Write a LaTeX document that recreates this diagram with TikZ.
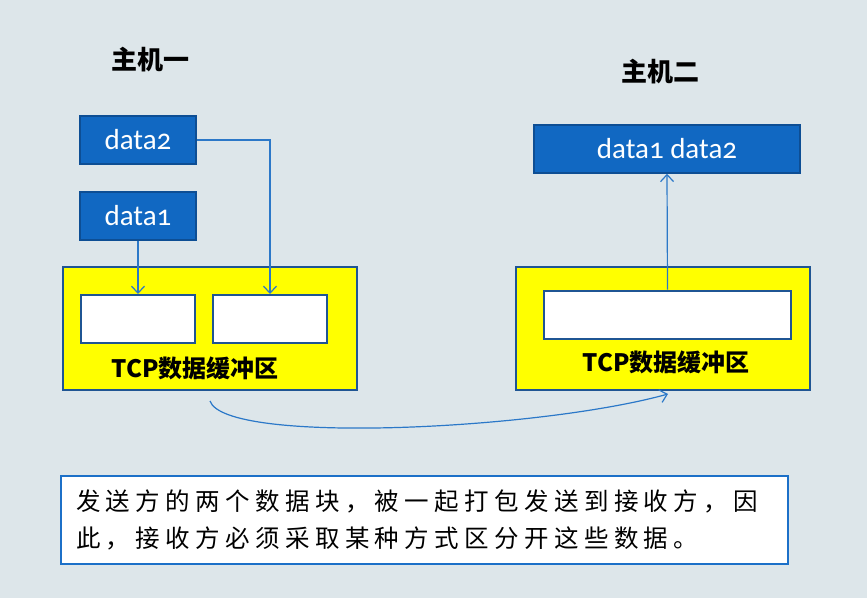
\documentclass[tikz,border=0pt]{standalone}
\usepackage{fontspec}
\setmainfont{Carlito}[Numbers=OldStyle]
\newfontfamily\cjk{Noto Sans CJK SC}
\usetikzlibrary{arrows.meta}

\definecolor{bgcol}{HTML}{DDE6EA}
\definecolor{datafill}{HTML}{1168C2}
\definecolor{dataline}{HTML}{0D4E94}
\definecolor{bufline}{HTML}{1F5593}
\definecolor{buffill}{RGB}{255,255,0}
\definecolor{linkcol}{HTML}{2B78C8}
\definecolor{notecol}{HTML}{1C70C8}

\begin{document}
\begin{tikzpicture}[
		x={(1pt,0pt)},
		y={(0pt,-1pt)},
		datablock/.style={draw=dataline,fill=datafill,line width=1.5pt,text=white,
			font=\fontsize{29}{30}\selectfont,inner sep=0pt},
		buffer/.style={draw=bufline,fill=buffill,line width=2pt,
			minimum width=294pt,minimum height=123pt},
		slot/.style={draw=bufline,fill=white,line width=2pt,minimum height=48pt},
		host/.style={font=\cjk\bfseries\fontsize{26}{28}\selectfont},
		buflabel/.style={font=\cjk\bfseries\fontsize{24}{26}\selectfont},
		link/.style={draw=linkcol,line width=1.2pt,-{Straight Barb[length=7pt,width=13pt]}},
	]
		\useasboundingbox[fill=bgcol] (0,0) rectangle (867,598);
		
		% host titles
		\node[host] (hostA) at (150,60) {主机一};
		\node[host] (hostB) at (660,72) {主机二};
		
		% sender side
		\node[datablock,minimum width=116pt,minimum height=48pt] (data2) at (138,140) {data2};
		\node[datablock,minimum width=116pt,minimum height=48pt] (data1) at (138,216) {data1};
		\node[buffer] (bufL) at (210,328.5) {};
		\foreach \n/\x in {slotA/138, slotB/270}{
			\node[slot,minimum width=114pt] (\n) at (\x,319) {};
		}
		\node[buflabel] (tcpL) at (195,368) {TCP数据缓冲区};
		
		% receiver side
		\node[datablock,minimum width=266pt,minimum height=48pt] (recv) at (667,149) {data1 data2};
		\node[buffer] (bufR) at (663,328.5) {};
		\node[slot,minimum width=247pt] (slotC) at (667.5,314.5) {};
		\node[buflabel] (tcpR) at (666,362) {TCP数据缓冲区};
		
		% links
		\draw[link] (data1.south) -- (slotA.north);
		\draw[link] (data2.east) -| (slotB.north);
		\draw[link] (slotC.north) -- (recv.south);
		\draw[link] ([yshift=-10pt]bufL.south) .. controls +(15,44) and +(-130,36) .. ([xshift=5pt,yshift=-3pt]bufR.south);
		
		% note
		\node[draw=notecol,fill=white,line width=2pt,anchor=north west,align=left,
			text width=697pt,minimum height=88pt,inner xsep=15pt,inner ysep=9pt,
			font=\cjk\fontsize{24.5}{37}\selectfont] (note) at (60,475)
			{\addfontfeature{LetterSpace=22}发送方的两个数据块，被一起打包发送到接收方，因\\
			\addfontfeature{LetterSpace=22}此，接收方必须采取某种方式区分开这些数据。};
	\end{tikzpicture}
\end{document}
